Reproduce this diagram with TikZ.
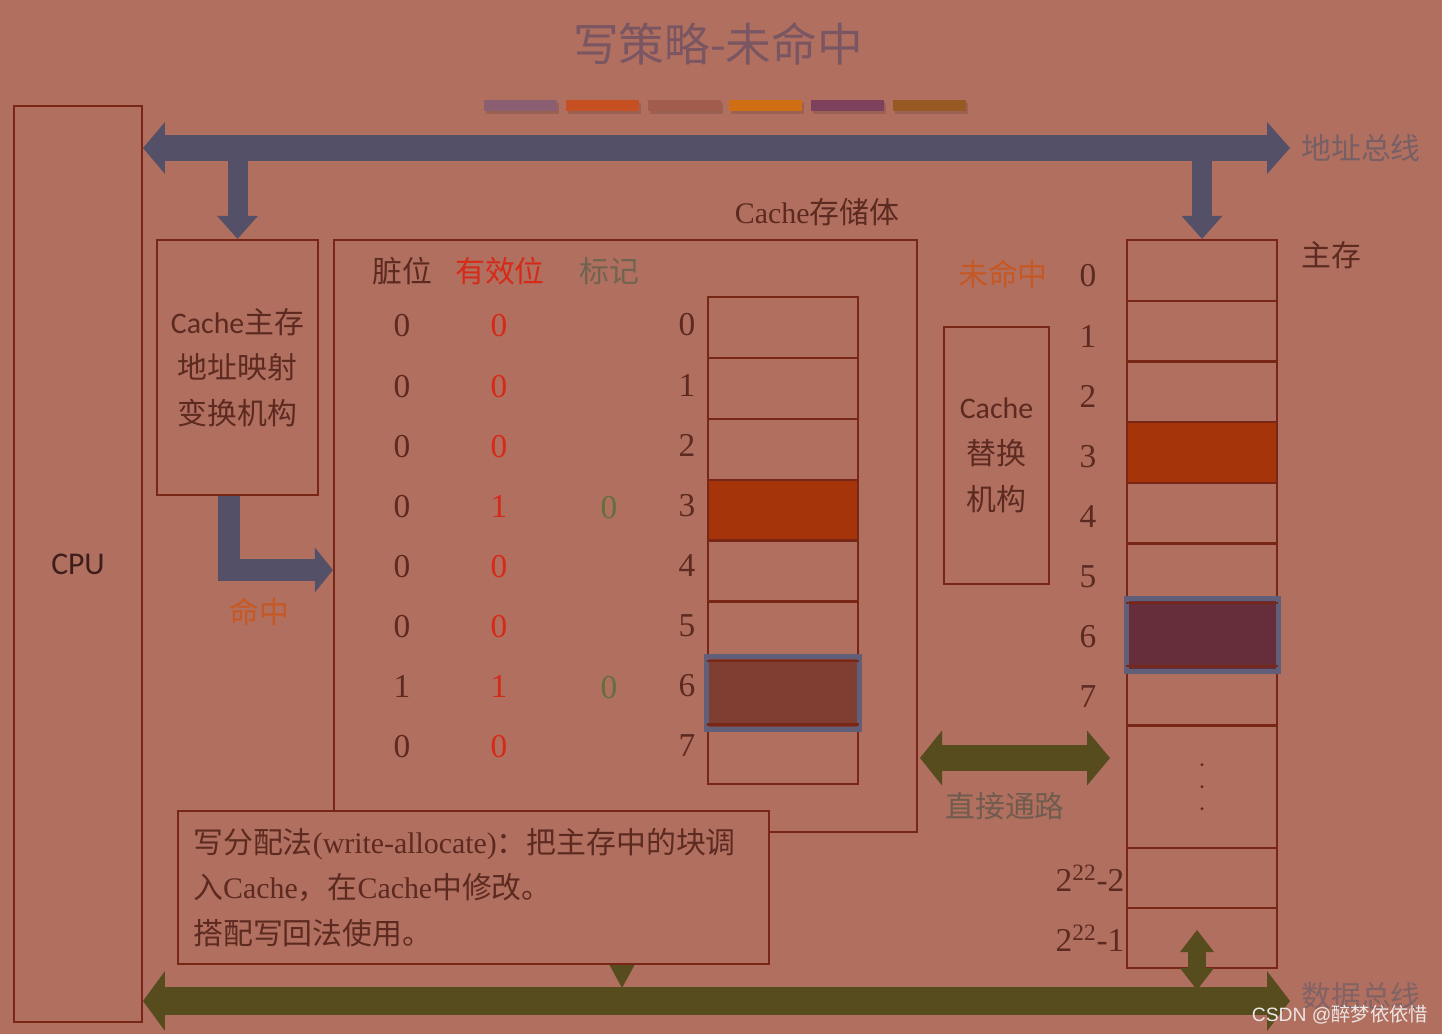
\documentclass[tikz,border=0pt]{standalone}
\usepackage{fontspec}
\setmainfont{Liberation Serif}
\newfontfamily\cjk{Noto Sans CJK SC}
\newfontfamily\calfont{Carlito}
\newfontfamily\wmfont{Liberation Sans}
\usetikzlibrary{arrows.meta}

\newlength{\pxl}
\setlength{\pxl}{0.02cm}

\definecolor{bgcol}{RGB}{177,111,95}
\definecolor{linecol}{RGB}{120,38,22}
\definecolor{darktext}{RGB}{92,42,32}
\definecolor{cputext}{RGB}{62,30,26}
\definecolor{redtext}{RGB}{214,42,24}
\definecolor{hittext}{RGB}{198,88,36}
\definecolor{tagtext}{RGB}{98,112,62}
\definecolor{headtag}{RGB}{112,100,80}
\definecolor{graytext}{RGB}{118,96,102}
\definecolor{pathtext}{RGB}{112,92,78}
\definecolor{titletext}{RGB}{122,86,98}
\definecolor{wmtext}{RGB}{236,230,230}
\definecolor{busblue}{RGB}{84,80,104}
\definecolor{busolive}{RGB}{86,76,30}
\definecolor{hitfill}{RGB}{166,52,10}
\definecolor{cachevictim}{RGB}{128,62,50}
\definecolor{memvictim}{RGB}{102,46,58}
\definecolor{framecol}{RGB}{96,94,120}
\definecolor{bara}{RGB}{138,95,114}
\definecolor{barb}{RGB}{198,80,34}
\definecolor{barc}{RGB}{162,92,78}
\definecolor{bard}{RGB}{208,110,20}
\definecolor{bare}{RGB}{125,65,94}
\definecolor{barf}{RGB}{150,90,34}

\tikzset{
  box/.style={draw=linecol, line width=1.3pt, inner sep=0pt},
  cellplain/.style={draw=linecol, line width=1.3pt, minimum width=150*\pxl, inner sep=0pt},
  cellhit/.style={cellplain, fill=hitfill},
  victim/.style={draw=framecol, line width=5*\pxl},
  cnlabel/.style={font=\fontsize{17}{26}\selectfont\cjk},
  digit/.style={font=\fontsize{19}{22}\selectfont\rmfamily},
  titlefont/.style={font=\fontsize{26}{30}\selectfont\cjk, text=titletext},
  addrbus/.style={busblue, line width=26*\pxl,
    {Triangle[width=1.04cm,length=0.44cm,line width=0pt]}-{Triangle[width=1.04cm,length=0.46cm,line width=0pt]}},
  addrdown/.style={busblue, line width=20*\pxl, -{Triangle[width=0.82cm,length=0.46cm,line width=0pt]}},
  hitarrow/.style={busblue, line width=22*\pxl, line join=miter, -{Triangle[width=0.9cm,length=0.36cm,line width=0pt]}},
  databus/.style={busolive, line width=28*\pxl,
    {Triangle[width=1.2cm,length=0.44cm,line width=0pt]}-{Triangle[width=1.2cm,length=0.46cm,line width=0pt]}},
  directpath/.style={busolive, line width=26*\pxl,
    {Triangle[width=1.1cm,length=0.44cm,line width=0pt]}-{Triangle[width=1.1cm,length=0.46cm,line width=0pt]}},
  memlink/.style={busolive, line width=18*\pxl,
    {Triangle[width=0.68cm,length=0.44cm,line width=0pt]}-{Triangle[width=0.68cm,length=0.44cm,line width=0pt]}},
  notetip/.style={busolive, line width=2*\pxl, -{Triangle[width=0.5cm,length=0.46cm,line width=0pt]}}
}

\begin{document}
\begin{tikzpicture}[x=0.02cm, y=-0.02cm]
  % Background (1 unit = 1 pixel of the slide)
  \fill[bgcol] (0,0) rectangle (1442,1034);
  \useasboundingbox (0,0) rectangle (1442,1034);

  % Title and colour strip
  \node[titlefont] (title) at (718,44) {写策略-未命中};
  \foreach \c [count=\i from 0] in {bara,barb,barc,bard,bare,barf}
  {
    \fill[black, opacity=0.12] ({486+81.8*\i},103) rectangle ++(73,11);
    \fill[\c] ({484+81.8*\i},100) rectangle ++(73,11);
  }

  % CPU
  \node[box, minimum width=128*\pxl, minimum height=916*\pxl,
        font=\fontsize{18}{22}\selectfont\calfont, text=cputext] (cpu) at (78,564) {CPU};

  % Address bus
  \coordinate (abL) at (143,148);
  \coordinate (abR) at (1290,148);
  \draw[addrbus] (abL) -- (abR);
  \node[cnlabel, text=graytext] (abus) at (1361,148) {地址总线};

  % Cache-main memory address mapping
  \node[box, minimum width=161*\pxl, minimum height=255*\pxl, cnlabel, align=center, text=darktext]
    (map) at (237.5,367.5) {{\calfont Cache}主存\\地址映射\\变换机构};
  \draw[addrdown] (map.north |- abL) -- (map.north);

  % Cache storage
  \node[box, minimum width=583*\pxl, minimum height=592*\pxl] (cache) at (625.5,536) {};
  \node[cnlabel, text=darktext] (cachelbl) at (817,212) {{\rmfamily Cache}存储体};
  \node[cnlabel, text=darktext] (hdirty) at (402,271) {脏位};
  \node[cnlabel, text=redtext] (hvalid) at (500,271) {有效位};
  \node[cnlabel, text=headtag] (htag) at (609,271) {标记};

  \foreach \d/\v/\t/\s [count=\i from 0] in
    {0/0/{}/cellplain, 0/0/{}/cellplain, 0/0/{}/cellplain, 0/1/0/cellhit,
     0/0/{}/cellplain, 0/0/{}/cellplain, 1/1/0/cellplain, 0/0/{}/cellplain}
  {
    \node[digit, text=darktext] (d\i) at (402,{326+60.1*\i}) {\d};
    \node[digit, text=redtext] (v\i) at (499,{326+60.1*\i}) {\v};
    \node[digit, text=tagtext] (t\i) at (609,{327+60.1*\i}) {\t};
    \node[digit, text=darktext] (ci\i) at (687,{325+60.1*\i}) {\i};
    \node[\s, minimum height=60.9*\pxl] (cb\i) at (783,{327.4+60.9*\i}) {};
  }
  \draw[victim, fill=cachevictim] ([shift={(-76.5,-36.5)}]cb6.center) rectangle ([shift={(76.5,36.5)}]cb6.center);
  \draw[linecol, line width=1.3pt] (cb6.north west) -- (cb6.north east) (cb6.south west) -- (cb6.south east);

  % Hit path
  \coordinate (hitturn) at (229,570);
  \draw[hitarrow] (map.south -| hitturn) |- (cache.west |- hitturn);
  \node[cnlabel, text=hittext] (hitlbl) at (259,612) {命中};

  % Replacement unit
  \node[cnlabel, text=hittext] (miss) at (1003,274) {未命中};
  \node[box, minimum width=105*\pxl, minimum height=257*\pxl, cnlabel, align=center, text=darktext]
    (repl) at (996.5,455.5) {{\calfont Cache}\\替换\\机构};

  % Main memory
  \foreach \s [count=\i from 0] in {cellplain,cellplain,cellplain,cellhit,cellplain,cellplain,cellplain,cellplain}
    \node[\s, minimum height=60.7*\pxl] (m\i) at (1202,{270.35+60.7*\i}) {};
  \node[cellplain, minimum height=122.4*\pxl] (mdots) at (1202,786.8) {};
  \node[cellplain, minimum height=60*\pxl] (mpen) at (1202,878) {};
  \node[cellplain, minimum height=60*\pxl] (mlast) at (1202,938) {};
  \draw[victim, fill=memvictim] ([shift={(-76,-36.5)}]m6.center) rectangle ([shift={(76,36.5)}]m6.center);
  \draw[linecol, line width=1.3pt] (m6.north west) -- (m6.north east) (m6.south west) -- (m6.south east);
  \foreach \k in {-1,0,1}
    \fill[darktext] (mdots.center) ++(0,{\k*22}) circle (1.6);

  \foreach \i in {0,...,7}
    \node[digit, text=darktext] (ma\i) at (1088,{276+60.15*\i}) {\i};
  \node[digit, text=darktext] (mapen) at (1090,878) {2\textsuperscript{22}-2};
  \node[digit, text=darktext] (malast) at (1090,938) {2\textsuperscript{22}-1};
  \node[cnlabel, text=darktext] (memlbl) at (1331,255) {主存};
  \draw[addrdown] (m0.north |- abR) -- (m0.north);

  % Direct path between cache and memory
  \coordinate (dpL) at (920,758);
  \coordinate (dpR) at (1110,758);
  \draw[directpath] (dpL) -- (dpR);
  \node[cnlabel, text=pathtext] (dplbl) at (1005,806) {直接通路};

  % Write-allocate note
  \node[box, fill=bgcol, minimum width=591*\pxl, minimum height=153*\pxl] (note) at (473.5,887.5) {};
  \node[cnlabel, align=left, text=darktext, anchor=west, inner sep=0pt] (notetxt) at (193,887.5)
    {写分配法{\rmfamily (write-allocate)}：把主存中的块调\\入{\rmfamily Cache}，在{\rmfamily Cache}中修改。\\搭配写回法使用。};

  % Data bus
  \coordinate (dbL) at (143,1001);
  \coordinate (dbR) at (1290,1001);
  \draw[databus] (dbL) -- (dbR);
  \coordinate (nt) at (622,988);
  \draw[notetip] (note.south -| nt) -- (nt);
  \coordinate (mbT) at (1197,930);
  \coordinate (mbB) at (1197,990);
  \draw[memlink] (mbB) -- (mbT);
  \node[cnlabel, text=graytext!80!bgcol] (dbus) at (1361,996) {数据总线};
  \node[font=\fontsize{11}{13}\selectfont\wmfont, text=wmtext] (wm) at (1340,1015) {CSDN @{\cjk 醉梦依依惜}};
\end{tikzpicture}
\end{document}
